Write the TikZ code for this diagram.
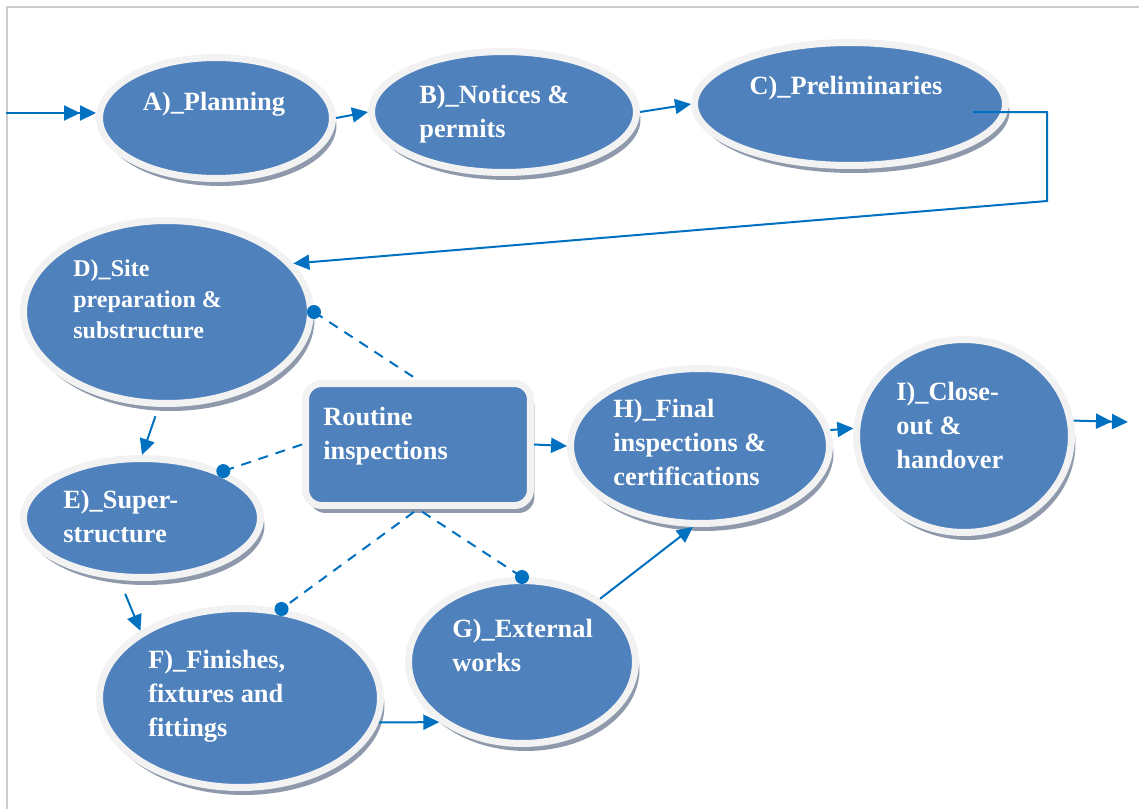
\documentclass[tikz,border=0pt]{standalone}
\usepackage{fontspec}
\setmainfont{Liberation Serif}
\usepackage{tikz}
\usetikzlibrary{shapes}
\usetikzlibrary{shadows}
\usetikzlibrary{arrows.meta}
\usetikzlibrary{calc}
\definecolor{stageblue}{HTML}{4F81BD}
\definecolor{rimgrey}{HTML}{F2F2F2}
\definecolor{shadegrey}{HTML}{8E9AAC}
\definecolor{linkblue}{HTML}{0070C0}
\definecolor{framegrey}{HTML}{CCCCCC}

\begin{document}
\begin{tikzpicture}[x=0.02cm,y=-0.02cm,
    >={Triangle[length=0.32cm,width=0.3cm]},
    stage/.style={ellipse,fill=stageblue,draw=rimgrey,line width=0.14cm,inner sep=0pt,
      drop shadow={shadow xshift=0.08cm,shadow yshift=-0.15cm,fill=shadegrey,opacity=1}},
    checkbox/.style={rectangle,rounded corners=0.32cm,fill=stageblue,draw=rimgrey,line width=0.14cm,
      inner sep=0pt,minimum width=4.5cm,minimum height=2.44cm,
      drop shadow={shadow xshift=0.08cm,shadow yshift=-0.15cm,fill=shadegrey,opacity=1}},
    lbl/.style={text=white,font=\fontsize{15}{19.4}\selectfont\bfseries,align=left,inner sep=0pt,anchor=north west},
    link/.style={draw=linkblue,line width=0.04cm},
    insp/.style={draw=linkblue,line width=0.04cm,dash pattern=on 0.2cm off 0.16cm}
  ]
  \useasboundingbox (0,0) rectangle (1139,809);
  \draw[framegrey,line width=0.04cm] (7,809) -- (7,7) -- (1139,7);

  \node[stage,minimum width=4.66cm,minimum height=2.42cm] (eA) at (216,118) {};
  \node[stage,minimum width=5.30cm,minimum height=2.42cm] (eB) at (504,112) {};
  \node[stage,minimum width=6.22cm,minimum height=2.46cm] (eC) at (850,104) {};
  \node[stage,minimum width=5.74cm,minimum height=3.66cm] (eD) at (167,312) {};
  \node[stage,minimum width=4.74cm,minimum height=2.38cm] (eE) at (142,518) {};
  \node[stage,minimum width=5.62cm,minimum height=3.58cm] (eF) at (240,698) {};
  \node[stage,minimum width=4.54cm,minimum height=3.26cm] (eG) at (522,662) {};
  \node[stage,minimum width=5.18cm,minimum height=3.10cm] (eH) at (700,446) {};
  \node[stage,minimum width=4.30cm,minimum height=3.86cm] (eI) at (964,436) {};
  \node[checkbox] (rt) at (418,444.5) {};

  \node[lbl,anchor=north] (tA) at (214,92) {A)\_Planning};
  \node[lbl] (tB) at (419,85) {B)\_Notices \&\\permits};
  \node[lbl,anchor=north] (tC) at (846,76) {C)\_Preliminaries};
  \node[lbl,font=\fontsize{13.7}{17.9}\selectfont\bfseries] (tD) at (73,259) {D)\_Site\\preparation \&\\substructure};
  \node[lbl] (tE) at (63,490) {E)\_Super-\\structure};
  \node[lbl] (tF) at (148,650) {F)\_Finishes,\\fixtures and\\fittings};
  \node[lbl] (tG) at (452,619) {G)\_External\\works};
  \node[lbl] (tH) at (613,399) {H)\_Final\\inspections \&\\certifications};
  \node[lbl] (tI) at (896,382) {I)\_Close-\\out \&\\handover};
  \node[lbl] (tR) at (323,407) {Routine\\inspections};

  \coordinate (in) at (6,113);
  \coordinate (out) at (1128,422);
  \coordinate (cstart) at (973,112);
  \coordinate (cturn) at (1047,201);

  \draw[link,->>] (in) -- (in -| eA.west);
  \draw[link,->] (eA.east) -- (eB.west);
  \draw[link,->] (eB.east) -- (eC.west);
  \draw[link,->] (cstart) -| (cturn) -- (eD.21);
  \draw[link,->,shorten <=0.2cm] (eD.-95) -- (eE.north);
  \draw[link,->,shorten <=0.3cm] (eE.250) -- (eF.146);
  \draw[link,->] (eF.-10) -- (eG.216);
  \draw[link,->] (eG.39) -- (eH.265);
  \draw[link,->] (rt.east) -- (eH.west);
  \draw[link,->] (eH.7) -- (eI.176);
  \draw[link,->>] (eI.8) -- (out);

  \draw[insp,shorten <=0.12cm] (rt.north) -- (eD.east);
  \draw[insp] (rt.west) -- (eE.30);
  \draw[insp,shorten <=0.1cm] (rt.south) -- (eF.65);
  \draw[insp,shorten <=0.1cm] (rt.south) -- (eG.north);
  \fill[linkblue] (eD.east) circle (7) (eE.30) circle (7)
                  (eF.65) circle (7) (eG.north) circle (7);
\end{tikzpicture}
\end{document}
